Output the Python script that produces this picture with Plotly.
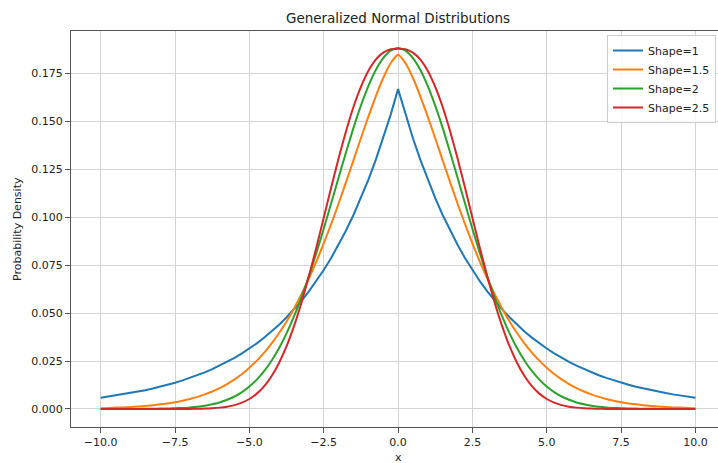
import plotly.graph_objects as go

x_vals = [i * 0.25 for i in range(-40, 41)]

shape_1 = [0.0059, 0.0065, 0.0070, 0.0076, 0.0083, 0.0090, 0.0098, 0.0107, 0.0116, 0.0126, 0.0137, 0.0149, 0.0162, 0.0176, 0.0191, 0.0208,
           0.0226, 0.0245, 0.0266, 0.0290, 0.0315, 0.0342, 0.0372, 0.0404, 0.0439, 0.0478, 0.0519, 0.0564, 0.0613, 0.0666, 0.0724, 0.0787,
           0.0856, 0.0930, 0.1011, 0.1099, 0.1194, 0.1298, 0.1411, 0.1533,
           0.1667,
           0.1533, 0.1411, 0.1298, 0.1194, 0.1099, 0.1011, 0.0930, 0.0856, 0.0787, 0.0724, 0.0666, 0.0613, 0.0564, 0.0519, 0.0478, 0.0439,
           0.0404, 0.0372, 0.0342, 0.0315, 0.0290, 0.0266, 0.0245, 0.0226, 0.0208, 0.0191, 0.0176, 0.0162, 0.0149, 0.0137, 0.0126, 0.0116,
           0.0107, 0.0098, 0.0090, 0.0083, 0.0076, 0.0070, 0.0065, 0.0059]

shape_1_5 = [0.0004, 0.0005, 0.0007, 0.0008, 0.0010, 0.0013, 0.0016, 0.0019, 0.0024, 0.0029, 0.0035, 0.0043, 0.0052, 0.0063, 0.0076, 0.0091,
             0.0109, 0.0130, 0.0154, 0.0182, 0.0215, 0.0252, 0.0294, 0.0342, 0.0396, 0.0456, 0.0524, 0.0598, 0.0679, 0.0768, 0.0863, 0.0964,
             0.1071, 0.1182, 0.1296, 0.1411, 0.1523, 0.1629, 0.1725, 0.1802,
             0.1846,
             0.1802, 0.1725, 0.1629, 0.1523, 0.1411, 0.1296, 0.1182, 0.1071, 0.0964, 0.0863, 0.0768, 0.0679, 0.0598, 0.0524, 0.0456, 0.0396,
             0.0342, 0.0294, 0.0252, 0.0215, 0.0182, 0.0154, 0.0130, 0.0109, 0.0091, 0.0076, 0.0063, 0.0052, 0.0043, 0.0035, 0.0029, 0.0024,
             0.0019, 0.0016, 0.0013, 0.0010, 0.0008, 0.0007, 0.0005, 0.0004]

shape_2 = [0.0000, 0.0000, 0.0000, 0.0000, 0.0000, 0.0000, 0.0001, 0.0001, 0.0002, 0.0002, 0.0004, 0.0005, 0.0008, 0.0012, 0.0017, 0.0025,
           0.0034, 0.0048, 0.0065, 0.0088, 0.0117, 0.0153, 0.0198, 0.0253, 0.0318, 0.0394, 0.0482, 0.0582, 0.0692, 0.0812, 0.0939, 0.1072,
           0.1206, 0.1338, 0.1465, 0.1581, 0.1683, 0.1767, 0.1829, 0.1868,
           0.1881,
           0.1868, 0.1829, 0.1767, 0.1683, 0.1581, 0.1465, 0.1338, 0.1206, 0.1072, 0.0939, 0.0812, 0.0692, 0.0582, 0.0482, 0.0394, 0.0318,
           0.0253, 0.0198, 0.0153, 0.0117, 0.0088, 0.0065, 0.0048, 0.0034, 0.0025, 0.0017, 0.0012, 0.0008, 0.0005, 0.0004, 0.0002, 0.0002,
           0.0001, 0.0001, 0.0000, 0.0000, 0.0000, 0.0000, 0.0000, 0.0000]

shape_2_5 = [0.0000, 0.0000, 0.0000, 0.0000, 0.0000, 0.0000, 0.0000, 0.0000, 0.0000, 0.0000, 0.0000, 0.0000, 0.0000, 0.0001, 0.0002, 0.0004,
             0.0007, 0.0012, 0.0020, 0.0033, 0.0052, 0.0080, 0.0119, 0.0172, 0.0241, 0.0327, 0.0432, 0.0554, 0.0691, 0.0840, 0.0997, 0.1154,
             0.1307, 0.1448, 0.1574, 0.1679, 0.1762, 0.1821, 0.1857, 0.1875,
             0.1878,
             0.1875, 0.1857, 0.1821, 0.1762, 0.1679, 0.1574, 0.1448, 0.1307, 0.1154, 0.0997, 0.0840, 0.0691, 0.0554, 0.0432, 0.0327, 0.0241,
             0.0172, 0.0119, 0.0080, 0.0052, 0.0033, 0.0020, 0.0012, 0.0007, 0.0004, 0.0002, 0.0001, 0.0000, 0.0000, 0.0000, 0.0000, 0.0000,
             0.0000, 0.0000, 0.0000, 0.0000, 0.0000, 0.0000, 0.0000, 0.0000]

series_names = ["Shape=1", "Shape=1.5", "Shape=2", "Shape=2.5"]
series_colors = ["#1f77b4", "#ff7f0e", "#2ca02c", "#d62728"]

x_tick_vals = [-10.0, -7.5, -5.0, -2.5, 0.0, 2.5, 5.0, 7.5, 10.0]
x_tick_text = ["\u221210.0", "\u22127.5", "\u22125.0", "\u22122.5", "0.0", "2.5", "5.0", "7.5", "10.0"]
y_tick_vals = [0.0, 0.025, 0.05, 0.075, 0.1, 0.125, 0.15, 0.175]
y_tick_text = ["0.000", "0.025", "0.050", "0.075", "0.100", "0.125", "0.150", "0.175"]

fig = go.Figure()
series_values = [shape_1, shape_1_5, shape_2, shape_2_5]
shapes = ["linear", "spline", "spline", "spline"]
for name, color, vals, ls in zip(series_names, series_colors, series_values, shapes):
    fig.add_trace(go.Scatter(x=x_vals, y=vals, mode="lines", name=name,
                             line=dict(color=color, width=2, shape=ls, smoothing=0.5)))

W, H = 718, 463
L, R, T, B = 71, 0, 31, 36
PW, PH = W - L - R, H - T - B
font = "DejaVu Sans, sans-serif"
fig.update_layout(
    width=W, height=H,
    margin=dict(l=L, r=R, t=T, b=B, autoexpand=False),
    paper_bgcolor="white", plot_bgcolor="white",
    font=dict(family=font, size=11, color="#222"),
    title=dict(text="Generalized Normal Distributions", x=398 / W, xanchor="center",
               y=1 - 18 / H, yanchor="middle", font=dict(size=13.5, color="#222")),
    legend=dict(x=(716 - L) / PW, y=1 - 4 / PH, xanchor="right", yanchor="top",
                bgcolor="rgba(255,255,255,0.85)",
                bordercolor="#cccccc", borderwidth=1, font=dict(size=11), itemwidth=30,
                tracegroupgap=0),
    showlegend=True,
    annotations=[
        dict(text="x", xref="paper", yref="paper", x=(398 - L) / PW, y=-(457 - (H - B)) / PH,
             xanchor="center", yanchor="middle", showarrow=False, font=dict(size=11, color="#222")),
        dict(text="Probability Density", xref="paper", yref="paper", x=-(L - 17) / PW, y=0.5,
             xanchor="center", yanchor="middle", textangle=-90, showarrow=False,
             font=dict(size=11, color="#222")),
    ],
)
fig.update_xaxes(range=[-11, 10.76], tickvals=x_tick_vals, ticktext=x_tick_text, automargin=False,
                 showgrid=True, gridcolor="#d3d3d3", gridwidth=1, zeroline=False,
                 showline=True, linecolor="#555", linewidth=1.2, mirror=True,
                 ticks="outside", ticklen=5, tickcolor="#555")
fig.update_yaxes(range=[-0.0094, 0.197], tickvals=y_tick_vals, ticktext=y_tick_text, automargin=False,
                 showgrid=True, gridcolor="#d3d3d3", gridwidth=1, zeroline=False,
                 showline=True, linecolor="#555", linewidth=1.2,
                 ticks="outside", ticklen=5, tickcolor="#555")

fig.write_html("out.html", config={"displayModeBar": False},
               post_script="document.body.style.margin='0';document.body.style.overflow='hidden';")
